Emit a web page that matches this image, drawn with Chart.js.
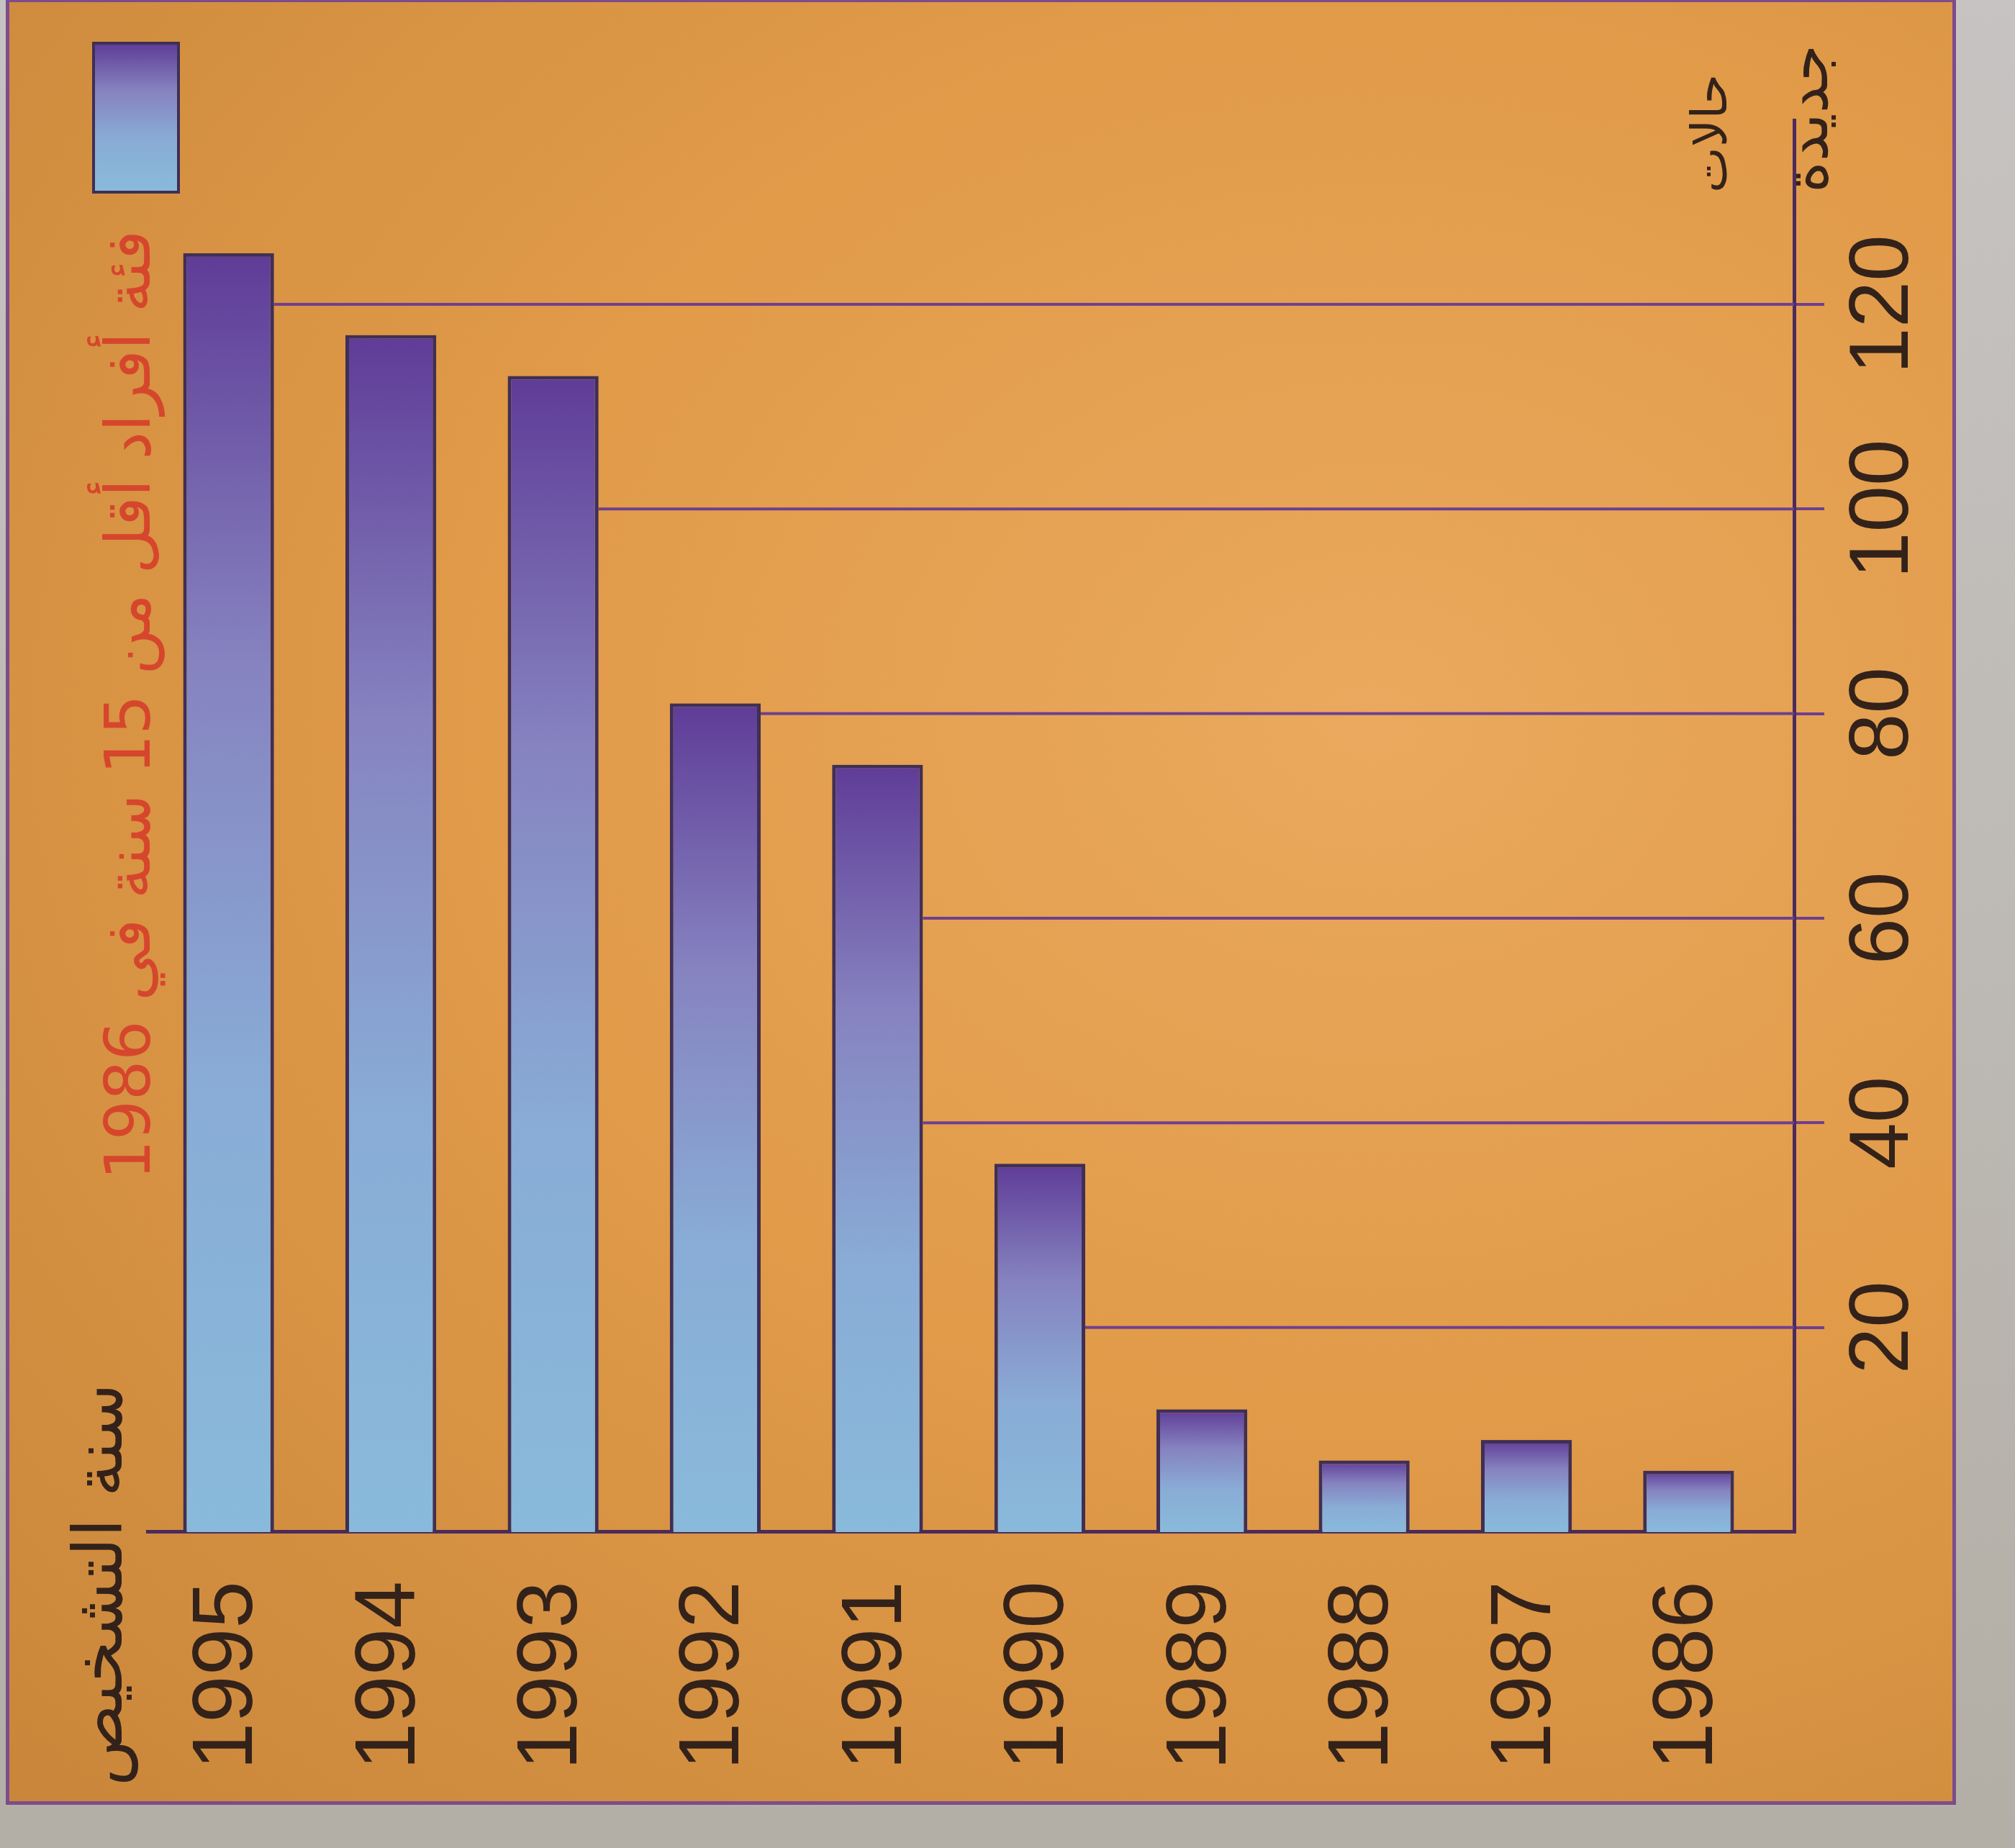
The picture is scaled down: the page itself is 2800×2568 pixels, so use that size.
<!DOCTYPE html>
<html lang="ar">
<head>
<meta charset="utf-8">
<title>حالات جديدة حسب سنة التشخيص</title>
<script src="https://cdn.jsdelivr.net/npm/chart.js@4.4.1/dist/chart.umd.min.js"></script>
<style>
  html, body { margin: 0; padding: 0; }
  body {
    width: 2800px; height: 2568px; overflow: hidden; position: relative;
    background: linear-gradient(to bottom, #c7c3c2, #b3afa6);
  }
  .panel {
    position: absolute; left: 8px; top: -2px; width: 2700px; height: 2500px;
    border: 5px solid #7c4c8c;
    background: radial-gradient(ellipse at 70% 40%, #eaa95e 0%, #e19b49 45%, #c9863a 100%);
  }
  /* the chart was printed sideways: draw it upright, then turn it a quarter to the left */
  #chart { position: absolute; left: 0; top: 0; transform-origin: 0 0; transform: translateY(2568px) rotate(-90deg); }
</style>
</head>
<body>
<div class="panel"></div>
<canvas id="chart" width="2568" height="2800"></canvas>
<script>
// data
const years = ['1995', '1994', '1993', '1992', '1991', '1990', '1989', '1988', '1987', '1986'];
const newCases = [125, 117, 113, 81, 75, 36, 12, 7, 9, 6];
const caseTicks = [20, 40, 60, 80, 100, 120];
const legendLabel = 'فئة أفراد أقل من 15 سنة في 1986';
const yearAxisTitle = 'سنة التشخيص';
const caseAxisTitle = ['حالات', 'جديدة'];

const colors = {
  text: '#33221a',
  legendText: '#d6462c',
  grid: '#6e3f8e',
  axis: '#4b2b5c',
  barEdge: '#3f2f55'
};

const digitFont = '"Liberation Sans", Arial, sans-serif';
const arabicFont = '"DejaVu Sans", sans-serif';

// purple at the bar's end, light blue at its base
function barGradient(ctx, from, to) {
  const g = ctx.createLinearGradient(from, 0, to, 0);
  g.addColorStop(0, '#89badb');
  g.addColorStop(0.35, '#89acd6');
  g.addColorStop(0.68, '#8683c0');
  g.addColorStop(1, '#5f3c97');
  return g;
}

function barFill(c) {
  const x = c.chart.scales.x;
  if (!x || c.type !== 'data') return '#88abd6';
  const from = x.getPixelForValue(0);
  const to = x.getPixelForValue(c.parsed.x);
  if (!isFinite(from) || !isFinite(to) || from === to) return '#88abd6';
  return barGradient(c.chart.ctx, from, to);
}

function fitFont(ctx, text, width, family) {
  ctx.font = `100px ${family}`;
  const size = 100 * width / ctx.measureText(text).width;
  return `${size.toFixed(1)}px ${family}`;
}

// grid lines run from the axis only up to the first bar that is tall enough
const gridToBars = {
  id: 'gridToBars',
  beforeDatasetsDraw(chart) {
    const { ctx, chartArea, scales: { x } } = chart;
    const bars = chart.getDatasetMeta(0).data;
    ctx.save();
    ctx.strokeStyle = colors.grid;
    ctx.lineWidth = 4;
    caseTicks.forEach(t => {
      let from = chartArea.top;
      for (let i = newCases.length - 1; i >= 0; i--) {
        if (newCases[i] >= t) {
          const b = bars[i].getProps(['y', 'height'], true);
          from = b.y + b.height / 2;
          break;
        }
      }
      const px = x.getPixelForValue(t);
      ctx.beginPath();
      ctx.moveTo(px, from);
      ctx.lineTo(px, chartArea.bottom);
      ctx.stroke();
    });
    ctx.restore();
  }
};

const sideTexts = {
  id: 'sideTexts',
  afterDraw(chart) {
    const { ctx, chartArea } = chart;
    ctx.save();
    ctx.textBaseline = 'middle';
    ctx.direction = 'rtl';

    // year axis title, top left
    ctx.fillStyle = colors.text;
    ctx.textAlign = 'left';
    ctx.font = fitFont(ctx, yearAxisTitle, 560, arabicFont);
    ctx.fillText(yearAxisTitle, 86, 145);

    // legend, top right: box then label
    const bx = 2301, by = 130, bw = 207, bh = 118;
    ctx.fillStyle = barGradient(ctx, bx, bx + bw);
    ctx.fillRect(bx, by, bw, bh);
    ctx.strokeStyle = colors.barEdge;
    ctx.lineWidth = 4;
    ctx.strokeRect(bx, by, bw, bh);
    ctx.fillStyle = colors.legendText;
    ctx.textAlign = 'right';
    ctx.font = fitFont(ctx, legendLabel, 1320, arabicFont);
    ctx.fillText(legendLabel, bx - 53, by + bh / 2 - 4);

    // value axis title, around the axis end
    ctx.fillStyle = colors.text;
    ctx.textAlign = 'left';
    ctx.font = fitFont(ctx, caseAxisTitle[0], 165, arabicFont);
    ctx.fillText(caseAxisTitle[0], chartArea.right - 101, chartArea.bottom - 112);
    ctx.font = fitFont(ctx, caseAxisTitle[1], 206, arabicFont);
    ctx.fillText(caseAxisTitle[1], chartArea.right - 101, chartArea.bottom + 24);
    ctx.restore();
  }
};

new Chart(document.getElementById('chart'), {
  type: 'bar',
  data: {
    datasets: [{
      label: legendLabel,
      data: newCases.map((v, i) => ({ x: v, y: i })),
      backgroundColor: barFill,
      borderColor: colors.barEdge,
      borderWidth: 5,
      barPercentage: 0.56,
      categoryPercentage: 1
    }]
  },
  options: {
    indexAxis: 'y',
    responsive: false,
    animation: false,
    devicePixelRatio: 1,
    layout: { padding: { left: 40, right: 167, top: 205, bottom: 60 } },
    plugins: {
      legend: { display: false },
      tooltip: { enabled: false }
    },
    scales: {
      x: {
        type: 'linear',
        min: 0,
        max: 138,
        afterBuildTicks: s => { s.ticks = caseTicks.map(v => ({ value: v })); },
        afterFit: s => { s.height = 247; },
        grid: { drawOnChartArea: false, drawTicks: true, tickLength: 42, color: colors.grid, lineWidth: 4 },
        border: { display: true, color: colors.axis, width: 5 },
        ticks: { padding: 14, maxRotation: 0, color: colors.text, font: { family: digitFont, size: 116 } }
      },
      y: {
        type: 'linear',
        reverse: true,
        offset: false,
        min: -0.5,
        max: 9.65,
        afterBuildTicks: s => { s.ticks = years.map((_, i) => ({ value: i })); },
        afterFit: s => { s.width = 399; },
        grid: { display: false, drawTicks: false, offset: false },
        border: { display: true, color: colors.axis, width: 5 },
        ticks: {
          padding: 68,
          color: colors.text,
          font: { family: digitFont, size: 118 },
          callback: v => years[v]
        }
      }
    }
  },
  plugins: [gridToBars, sideTexts]
});
</script>
</body>
</html>
